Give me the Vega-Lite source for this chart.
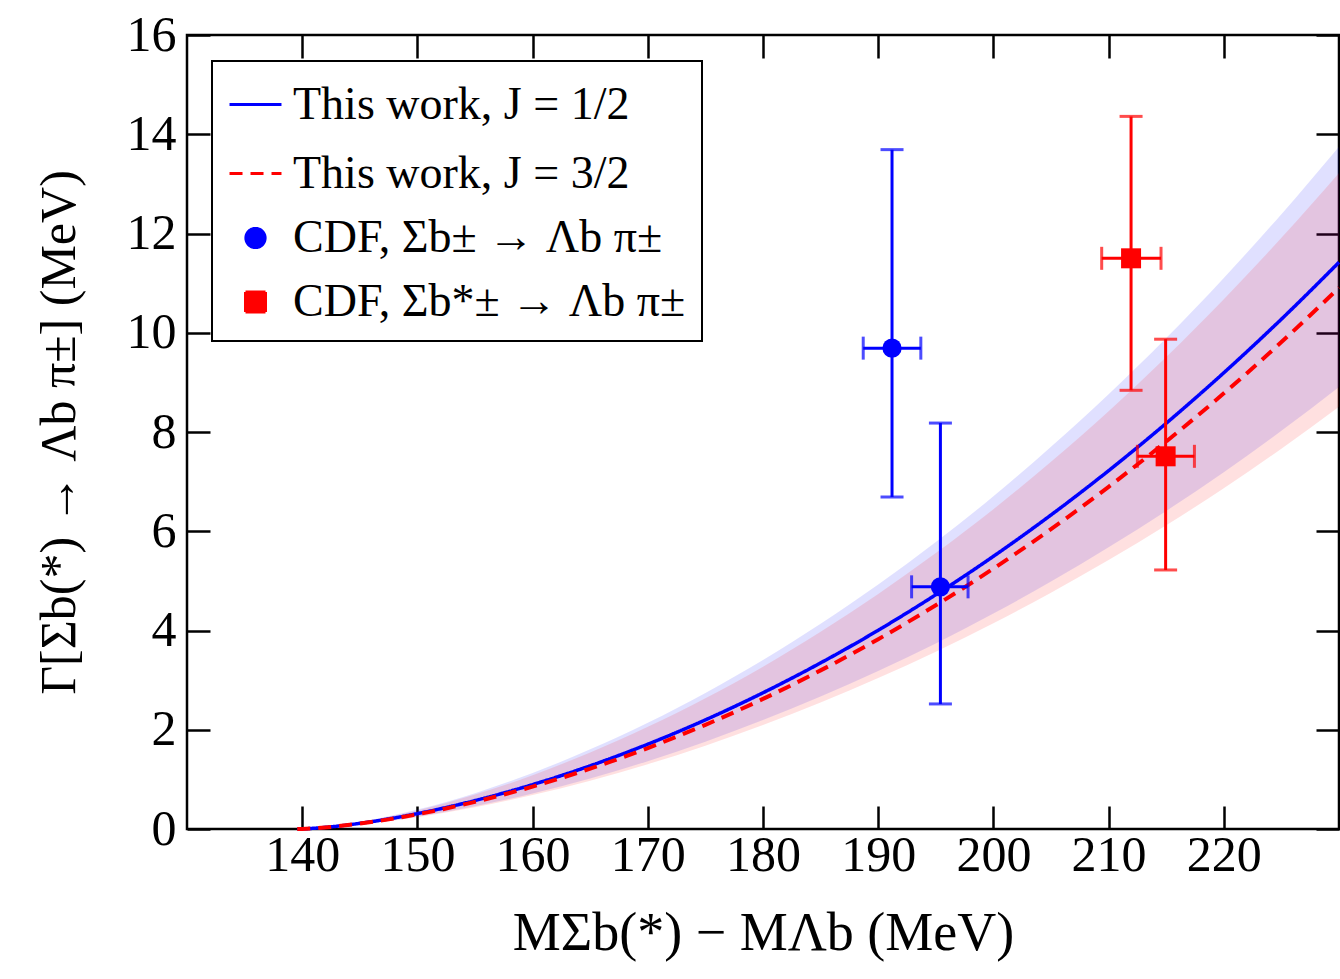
{
  "$schema": "https://vega.github.io/schema/vega-lite/v6.json",
  "width": 1152,
  "height": 794,
  "autosize": {"type": "none"},
  "padding": {"left": 187, "top": 35, "right": 1, "bottom": 150},
  "background": "white",
  "config": {
    "view": {"stroke": "black", "strokeWidth": 2.5},
    "font": "Liberation Serif",
    "axis": {
      "grid": false,
      "domain": false,
      "tickColor": "black",
      "tickWidth": 2.5,
      "tickSize": -23,
      "labelFont": "Liberation Serif",
      "labelFontSize": 50,
      "labelColor": "black",
      "titleFont": "Liberation Serif",
      "titleFontSize": 50,
      "titleFontWeight": "normal",
      "titleColor": "black"
    },
    "legend": {
      "strokeColor": "black",
      "strokeWidth": 2,
      "fillColor": "white",
      "padding": 16,
      "labelFont": "Liberation Serif",
      "labelFontSize": 46,
      "labelColor": "black",
      "labelLimit": 0,
      "symbolStrokeWidth": 3,
      "symbolOpacity": 1,
      "rowPadding": 18,
      "labelOffset": 10
    }
  },
  "datasets": {
    "curves": [
      {"Q": 139.57, "series": "This  work, J = 1/2", "y": 0, "lo": 0, "hi": 0},
      {"Q": 140, "series": "This  work, J = 1/2", "y": 0.0025, "lo": 0.002, "hi": 0.0032},
      {"Q": 141, "series": "This  work, J = 1/2", "y": 0.015, "lo": 0.012, "hi": 0.019},
      {"Q": 142, "series": "This  work, J = 1/2", "y": 0.033, "lo": 0.026, "hi": 0.042},
      {"Q": 145, "series": "This  work, J = 1/2", "y": 0.114, "lo": 0.091, "hi": 0.144},
      {"Q": 147.5, "series": "This  work, J = 1/2", "y": 0.203, "lo": 0.162, "hi": 0.256},
      {"Q": 150, "series": "This  work, J = 1/2", "y": 0.31, "lo": 0.248, "hi": 0.391},
      {"Q": 155, "series": "This  work, J = 1/2", "y": 0.573, "lo": 0.458, "hi": 0.722},
      {"Q": 160, "series": "This  work, J = 1/2", "y": 0.895, "lo": 0.716, "hi": 1.128},
      {"Q": 165, "series": "This  work, J = 1/2", "y": 1.274, "lo": 1.019, "hi": 1.605},
      {"Q": 170, "series": "This  work, J = 1/2", "y": 1.709, "lo": 1.367, "hi": 2.141},
      {"Q": 175, "series": "This  work, J = 1/2", "y": 2.199, "lo": 1.759, "hi": 2.742},
      {"Q": 180, "series": "This  work, J = 1/2", "y": 2.745, "lo": 2.196, "hi": 3.404},
      {"Q": 185, "series": "This  work, J = 1/2", "y": 3.347, "lo": 2.668, "hi": 4.134},
      {"Q": 190, "series": "This  work, J = 1/2", "y": 4.005, "lo": 3.184, "hi": 4.926},
      {"Q": 195, "series": "This  work, J = 1/2", "y": 4.721, "lo": 3.739, "hi": 5.783},
      {"Q": 200, "series": "This  work, J = 1/2", "y": 5.495, "lo": 4.341, "hi": 6.704},
      {"Q": 205, "series": "This  work, J = 1/2", "y": 6.328, "lo": 4.986, "hi": 7.701},
      {"Q": 210, "series": "This  work, J = 1/2", "y": 7.221, "lo": 5.676, "hi": 8.759},
      {"Q": 215, "series": "This  work, J = 1/2", "y": 8.176, "lo": 6.41, "hi": 9.893},
      {"Q": 220, "series": "This  work, J = 1/2", "y": 9.193, "lo": 7.189, "hi": 11.105},
      {"Q": 225, "series": "This  work, J = 1/2", "y": 10.274, "lo": 8.024, "hi": 12.39},
      {"Q": 230, "series": "This  work, J = 1/2", "y": 11.42, "lo": 8.908, "hi": 13.75},
      {"Q": 139.57, "series": "This  work, J = 3/2", "y": 0, "lo": 0, "hi": 0},
      {"Q": 140, "series": "This  work, J = 3/2", "y": 0.0024, "lo": 0.0019, "hi": 0.003},
      {"Q": 141, "series": "This  work, J = 3/2", "y": 0.0143, "lo": 0.0114, "hi": 0.0181},
      {"Q": 142, "series": "This  work, J = 3/2", "y": 0.0315, "lo": 0.025, "hi": 0.04},
      {"Q": 145, "series": "This  work, J = 3/2", "y": 0.109, "lo": 0.087, "hi": 0.138},
      {"Q": 147.5, "series": "This  work, J = 3/2", "y": 0.194, "lo": 0.155, "hi": 0.246},
      {"Q": 150, "series": "This  work, J = 3/2", "y": 0.296, "lo": 0.237, "hi": 0.375},
      {"Q": 155, "series": "This  work, J = 3/2", "y": 0.547, "lo": 0.438, "hi": 0.694},
      {"Q": 160, "series": "This  work, J = 3/2", "y": 0.855, "lo": 0.684, "hi": 1.084},
      {"Q": 165, "series": "This  work, J = 3/2", "y": 1.217, "lo": 0.974, "hi": 1.543},
      {"Q": 170, "series": "This  work, J = 3/2", "y": 1.632, "lo": 1.306, "hi": 2.058},
      {"Q": 175, "series": "This  work, J = 3/2", "y": 2.1, "lo": 1.68, "hi": 2.636},
      {"Q": 180, "series": "This  work, J = 3/2", "y": 2.621, "lo": 2.097, "hi": 3.271},
      {"Q": 185, "series": "This  work, J = 3/2", "y": 3.196, "lo": 2.547, "hi": 3.973},
      {"Q": 190, "series": "This  work, J = 3/2", "y": 3.825, "lo": 3.041, "hi": 4.735},
      {"Q": 195, "series": "This  work, J = 3/2", "y": 4.509, "lo": 3.571, "hi": 5.56},
      {"Q": 200, "series": "This  work, J = 3/2", "y": 5.248, "lo": 4.146, "hi": 6.445},
      {"Q": 205, "series": "This  work, J = 3/2", "y": 6.043, "lo": 4.762, "hi": 7.403},
      {"Q": 210, "series": "This  work, J = 3/2", "y": 6.896, "lo": 5.42, "hi": 8.42},
      {"Q": 215, "series": "This  work, J = 3/2", "y": 7.808, "lo": 6.121, "hi": 9.51},
      {"Q": 220, "series": "This  work, J = 3/2", "y": 8.779, "lo": 6.865, "hi": 10.675},
      {"Q": 225, "series": "This  work, J = 3/2", "y": 9.812, "lo": 7.663, "hi": 11.912},
      {"Q": 230, "series": "This  work, J = 3/2", "y": 10.906, "lo": 8.507, "hi": 13.218}
    ],
    "cdf": [
      {"series": "CDF, Σb± → Λb π±", "x": 191.2, "y": 9.69, "xlo": 188.7, "xhi": 193.7, "ylo": 6.69, "yhi": 13.69},
      {"series": "CDF, Σb± → Λb π±", "x": 195.4, "y": 4.88, "xlo": 192.9, "xhi": 197.8, "ylo": 2.52, "yhi": 8.18},
      {"series": "CDF, Σb*± → Λb π±", "x": 211.95, "y": 11.5, "xlo": 209.4, "xhi": 214.55, "ylo": 8.84, "yhi": 14.36},
      {"series": "CDF, Σb*± → Λb π±", "x": 214.95, "y": 7.51, "xlo": 212.5, "xhi": 217.45, "ylo": 5.22, "yhi": 9.87}
    ]
  },
  "layer": [
    {
      "data": {"name": "curves"},
      "transform": [{"filter": "datum.series == 'This  work, J = 1/2'"}],
      "mark": {"type": "area", "color": "#0000ff", "opacity": 0.12, "interpolate": "monotone"},
      "encoding": {
        "x": {"field": "Q", "type": "quantitative", "scale": {"domain": [130, 230], "nice": false, "zero": false},
          "axis": {"orient": "bottom", "values": [140, 150, 160, 170, 180, 190, 200, 210, 220], "labelPadding": 24,
            "title": "MΣb(*) − MΛb  (MeV)", "titlePadding": 26, "titleFontSize": 54}},
        "y": {"field": "lo", "type": "quantitative", "scale": {"domain": [0, 16], "nice": false},
          "axis": {"orient": "left", "values": [0, 2, 4, 6, 8, 10, 12, 14, 16], "labelPadding": 34,
            "title": "Γ[Σb(*) → Λb π±]  (MeV)", "titlePadding": 42}},
        "y2": {"field": "hi"}
      }
    },
    {
      "data": {"name": "curves"},
      "transform": [{"filter": "datum.series == 'This  work, J = 3/2'"}],
      "mark": {"type": "area", "color": "#ff0000", "opacity": 0.12, "interpolate": "monotone"},
      "encoding": {
        "x": {"field": "Q", "type": "quantitative",
          "axis": {"orient": "top", "values": [140, 150, 160, 170, 180, 190, 200, 210, 220], "labels": false, "title": null}},
        "y": {"field": "lo", "type": "quantitative",
          "axis": {"orient": "right", "values": [0, 2, 4, 6, 8, 10, 12, 14, 16], "labels": false, "title": null}},
        "y2": {"field": "hi"}
      }
    },
    {
      "data": {"name": "curves"},
      "transform": [{"filter": "datum.series == 'This  work, J = 1/2'"}],
      "mark": {"type": "line", "strokeWidth": 3.5, "interpolate": "monotone"},
      "encoding": {
        "x": {"field": "Q", "type": "quantitative", "axis": null},
        "y": {"field": "y", "type": "quantitative", "axis": null},
        "color": {"field": "series", "type": "nominal",
          "scale": {"domain": ["This  work, J = 1/2", "This  work, J = 3/2", "CDF, Σb± → Λb π±", "CDF, Σb*± → Λb π±"],
            "range": ["#0000ff", "#ff0000", "#0000ff", "#ff0000"]}},
        "strokeDash": {"field": "series", "type": "nominal",
          "scale": {"domain": ["This  work, J = 1/2", "This  work, J = 3/2", "CDF, Σb± → Λb π±", "CDF, Σb*± → Λb π±"],
            "range": [[1, 0], [13, 8], [1, 0], [1, 0]]}}
      }
    },
    {
      "data": {"name": "curves"},
      "transform": [{"filter": "datum.series == 'This  work, J = 3/2'"}],
      "mark": {"type": "line", "strokeWidth": 4, "interpolate": "monotone"},
      "encoding": {
        "x": {"field": "Q", "type": "quantitative", "axis": null},
        "y": {"field": "y", "type": "quantitative", "axis": null},
        "color": {"field": "series", "type": "nominal"},
        "strokeDash": {"field": "series", "type": "nominal"}
      }
    },
    {
      "data": {"name": "cdf"},
      "mark": {"type": "rule", "strokeWidth": 3},
      "encoding": {
        "x": {"field": "x", "type": "quantitative", "axis": null},
        "y": {"field": "ylo", "type": "quantitative", "axis": null},
        "y2": {"field": "yhi"},
        "color": {"field": "series", "type": "nominal"}
      }
    },
    {
      "data": {"name": "cdf"},
      "mark": {"type": "rule", "strokeWidth": 3},
      "encoding": {
        "x": {"field": "xlo", "type": "quantitative", "axis": null},
        "x2": {"field": "xhi"},
        "y": {"field": "y", "type": "quantitative", "axis": null},
        "color": {"field": "series", "type": "nominal"}
      }
    },
    {
      "data": {"name": "cdf"},
      "mark": {"type": "tick", "orient": "horizontal", "thickness": 3, "size": 23},
      "encoding": {
        "x": {"field": "x", "type": "quantitative", "axis": null},
        "y": {"field": "ylo", "type": "quantitative", "axis": null},
        "color": {"field": "series", "type": "nominal"}
      }
    },
    {
      "data": {"name": "cdf"},
      "mark": {"type": "tick", "orient": "horizontal", "thickness": 3, "size": 23},
      "encoding": {
        "x": {"field": "x", "type": "quantitative", "axis": null},
        "y": {"field": "yhi", "type": "quantitative", "axis": null},
        "color": {"field": "series", "type": "nominal"}
      }
    },
    {
      "data": {"name": "cdf"},
      "mark": {"type": "tick", "orient": "vertical", "thickness": 3, "size": 23},
      "encoding": {
        "x": {"field": "xlo", "type": "quantitative", "axis": null},
        "y": {"field": "y", "type": "quantitative", "axis": null},
        "color": {"field": "series", "type": "nominal"}
      }
    },
    {
      "data": {"name": "cdf"},
      "mark": {"type": "tick", "orient": "vertical", "thickness": 3, "size": 23},
      "encoding": {
        "x": {"field": "xhi", "type": "quantitative", "axis": null},
        "y": {"field": "y", "type": "quantitative", "axis": null},
        "color": {"field": "series", "type": "nominal"}
      }
    },
    {
      "data": {"name": "cdf"},
      "mark": {"type": "point", "filled": true, "opacity": 1},
      "encoding": {
        "x": {"field": "x", "type": "quantitative", "axis": null},
        "y": {"field": "y", "type": "quantitative", "axis": null},
        "color": {"field": "series", "type": "nominal",
          "legend": {"title": null, "orient": "none", "legendX": 25, "legendY": 26,
            "symbolStrokeWidth": 3, "symbolOpacity": 1,
            "encode": {"symbols": {"update": {"stroke": {"scale": "color", "field": "value"}, "opacity": {"value": 1}}}}}},
        "shape": {"field": "series", "type": "nominal",
          "scale": {"domain": ["This  work, J = 1/2", "This  work, J = 3/2", "CDF, Σb± → Λb π±", "CDF, Σb*± → Λb π±"],
            "range": ["stroke", "stroke", "circle", "square"]}},
        "size": {"field": "series", "type": "nominal",
          "scale": {"type": "ordinal", "domain": ["This  work, J = 1/2", "This  work, J = 3/2", "CDF, Σb± → Λb π±", "CDF, Σb*± → Λb π±"],
            "range": [2700, 2700, 370, 400]}}
      }
    }
  ],
  "resolve": {"axis": {"x": "independent", "y": "independent"}}
}
